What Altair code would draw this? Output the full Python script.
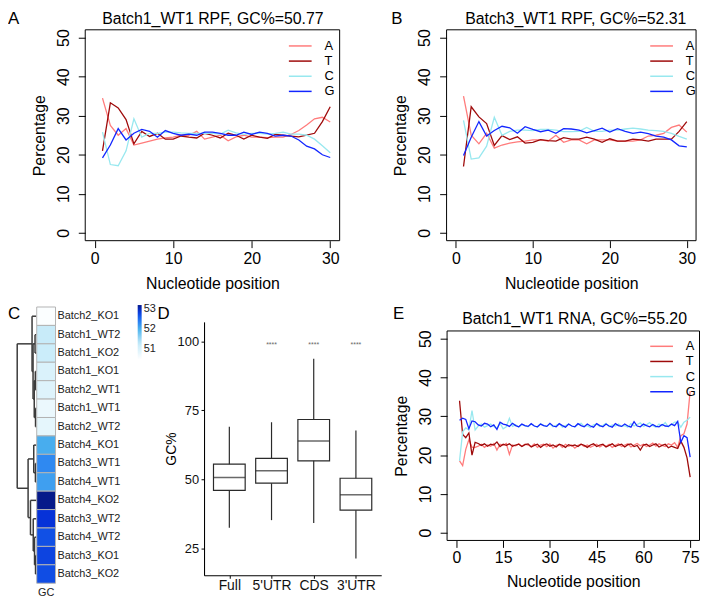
import altair as alt
import pandas as pd

W, H = 700, 600      # single layered canvas
M = 8                # page margin; reference measured in page pixels
FONT = "Liberation Sans"


def px(v):
    return v - M


# ---------------- data ----------------
bases = ["A", "T", "C", "G"]
base_colors = ["#ff7b7b", "#9e0a0a", "#98e8ef", "#1226ff"]

pos30 = list(range(1, 31))
rpf1_A = [34.5, 27.5, 25.0, 26.7, 22.5, 23.0, 23.5, 24.0, 24.3, 24.5, 25.0, 25.0, 26.0, 24.0, 24.5,
          25.0, 23.6, 24.6, 25.0, 24.5, 24.5, 24.4, 24.5, 24.5, 25.2, 26.2, 27.6, 29.2, 29.6, 28.4]
rpf1_T = [21.0, 33.3, 32.0, 29.0, 22.8, 26.0, 24.7, 25.5, 24.0, 24.0, 24.8, 24.5, 24.3, 25.5, 25.0,
          24.3, 25.5, 25.0, 24.0, 25.0, 24.5, 24.2, 25.2, 25.0, 24.8, 24.6, 25.0, 25.5, 28.5, 32.3]
rpf1_C = [25.8, 17.5, 17.2, 21.0, 29.2, 24.5, 25.5, 25.5, 25.8, 25.8, 25.6, 25.5, 25.5, 25.5, 25.5,
          25.3, 26.3, 25.6, 25.2, 25.5, 25.5, 25.3, 25.5, 25.8, 25.3, 25.3, 25.0, 24.0, 22.3, 20.5]
rpf1_G = [19.2, 22.5, 26.7, 23.8, 25.5, 26.5, 26.0, 24.5, 26.2, 25.5, 25.0, 25.3, 25.0, 25.8, 25.8,
          25.5, 25.0, 25.0, 25.8, 25.2, 25.8, 25.5, 24.8, 25.0, 24.8, 23.8, 22.2, 21.5, 20.0, 19.3]

rpf3_A = [35.0, 25.0, 22.8, 25.5, 21.7, 22.5, 23.0, 23.3, 23.5, 23.8, 23.8, 23.5, 25.0, 23.2, 23.8,
          23.8, 22.8, 23.8, 23.8, 23.8, 23.5, 23.5, 23.5, 23.8, 24.8, 25.0, 25.5, 27.0, 27.6, 25.8]
rpf3_T = [17.0, 32.3, 29.7, 28.0, 22.4, 24.9, 23.9, 24.6, 23.0, 23.2, 23.9, 23.6, 23.5, 24.4, 24.0,
          24.0, 24.5, 24.0, 23.2, 24.1, 23.5, 23.5, 24.0, 23.8, 23.5, 24.0, 24.0, 24.0, 26.0, 28.5]
rpf3_C = [28.8, 18.9, 19.2, 22.2, 29.6, 25.0, 26.0, 26.3, 26.3, 26.2, 26.5, 26.5, 26.3, 25.9, 25.9,
          26.0, 27.0, 26.0, 26.0, 26.3, 26.3, 26.6, 26.8, 26.6, 26.3, 26.2, 26.0, 25.5, 24.7, 24.0]
rpf3_G = [19.8, 24.5, 28.5, 24.8, 26.2, 27.3, 26.9, 25.5, 27.2, 26.5, 25.9, 26.3, 25.5, 26.7, 26.6,
          26.3, 25.6, 26.2, 26.8, 25.8, 26.7, 26.0, 25.5, 25.8, 25.4, 24.8, 24.5, 23.8, 22.3, 22.0]

pos75 = list(range(1, 76))
rna_A = [18.5, 17.3, 21.5, 24.0, 22.0, 22.0, 22.3, 22.8, 22.0, 22.6, 22.3, 23.0, 21.3, 22.8, 22.5,
         23.0, 20.2, 22.6, 22.4, 22.9, 22.3, 22.8, 22.6, 22.2, 22.9, 22.0, 22.6, 22.8, 22.2, 22.9,
         21.8, 22.5, 22.7, 22.0, 22.8, 22.3, 22.6, 21.8, 22.5, 22.8, 22.2, 22.6, 22.0, 22.4, 22.8,
         22.1, 22.6, 22.3, 22.8, 22.0, 22.5, 22.9, 22.2, 22.6, 22.9, 22.1, 22.6, 23.0, 22.4, 22.8,
         22.2, 22.6, 23.1, 22.3, 22.9, 22.5, 22.2, 22.9, 22.6, 23.2, 22.0, 25.0, 25.5, 28.0, 36.5]
rna_T = [34.0, 25.3, 24.5, 25.7, 20.0, 23.3, 23.0, 22.5, 22.9, 22.3, 22.8, 22.6, 23.4, 22.2, 22.8,
         22.5, 22.9, 22.3, 22.6, 22.8, 22.2, 22.7, 22.9, 22.1, 22.5, 22.8, 22.0, 22.6, 22.9, 22.3,
         22.6, 22.1, 22.8, 22.5, 22.0, 22.7, 22.4, 22.6, 22.2, 22.8, 22.5, 22.0, 22.6, 22.9, 22.2,
         22.6, 22.8, 22.1, 22.5, 22.9, 22.2, 22.6, 22.8, 22.1, 22.7, 22.9, 22.2, 22.5, 21.3, 22.6,
         22.8, 22.2, 22.6, 22.9, 22.1, 22.5, 22.8, 21.9, 22.3, 22.0, 21.7, 23.6, 22.0, 19.3, 14.3]
rna_C = [18.5, 26.0, 27.0, 26.5, 31.5, 26.5, 27.5, 28.0, 27.2, 27.6, 28.0, 27.3, 27.0, 28.2, 26.8,
         27.3, 29.5, 27.4, 27.8, 27.2, 27.9, 27.5, 27.3, 28.0, 27.5, 27.2, 28.1, 27.6, 27.4, 28.0,
         27.3, 27.7, 28.1, 27.2, 27.6, 28.0, 27.5, 27.3, 27.9, 28.2, 27.4, 27.6, 27.1, 27.8, 28.0,
         27.4, 27.7, 28.2, 27.3, 27.8, 27.5, 28.0, 27.4, 27.6, 27.2, 28.1, 27.5, 27.9, 28.3, 27.4,
         27.8, 28.4, 27.6, 27.2, 28.0, 27.5, 28.4, 27.3, 27.8, 28.5, 28.5, 27.2, 28.5, 29.0, 29.8]
rna_G = [29.0, 29.5, 29.2, 26.8, 28.8, 28.6, 27.8, 27.5, 28.2, 28.0, 27.3, 27.8, 26.6, 28.5, 28.0,
         27.8, 27.4, 28.2, 27.6, 27.3, 28.0, 27.6, 27.4, 28.1, 27.5, 27.3, 28.0, 27.6, 27.4, 28.2,
         27.5, 27.3, 28.1, 27.6, 27.2, 28.0, 27.5, 27.3, 28.1, 27.6, 27.3, 28.0, 27.5, 27.2, 28.1,
         27.6, 27.3, 28.0, 27.5, 27.2, 28.1, 27.6, 27.4, 28.0, 27.5, 27.2, 28.6, 27.5, 27.3, 28.0,
         27.6, 27.3, 27.9, 27.4, 27.3, 27.9, 27.5, 27.4, 28.0, 27.6, 28.7, 23.3, 25.0, 24.5, 19.5]

samples = ["Batch2_KO1", "Batch1_WT2", "Batch1_KO2", "Batch1_KO1", "Batch2_WT1", "Batch1_WT1",
           "Batch2_WT2", "Batch4_KO1", "Batch3_WT1", "Batch4_WT1", "Batch4_KO2", "Batch3_WT2",
           "Batch4_WT2", "Batch3_KO1", "Batch3_KO2"]
gc_values = [50.55, 51.25, 51.2, 51.0, 50.95, 50.77, 50.85, 52.05, 52.31, 52.15, 53.2, 52.9,
             52.7, 52.78, 52.72]
gc_stops = [50.5, 51.3, 52.0, 52.5, 52.9, 53.2]
gc_colors = ["#ffffff", "#c4eaf9", "#4db4ee", "#1d6ff3", "#0632d8", "#061a8a"]

# dendrogram: (left, right, merge height); integers are row indices above
dendro_tree = ((0, ((1, 2, 0.72), ((3, 4, 0.57), (5, 6, 0.46), 1.13), 1.75), 2.27),
               ((7, (8, 9, 0.52), 1.39),
                (10, (11, (12, (13, 14, 0.46), 0.98), 1.65), 3.09), 4.33),
               10.0)

regions = ["Full", "5'UTR", "CDS", "3'UTR"]
box_lower = [32.4, 35.2, 34.2, 21.3]
box_q1 = [46.0, 48.6, 56.7, 38.8]
box_median = [50.7, 53.1, 63.9, 44.4]
box_q3 = [55.5, 57.6, 71.7, 50.4]
box_upper = [69.1, 70.7, 93.7, 67.7]
sig_regions = ["5'UTR", "CDS", "3'UTR"]
sig_labels = ["****", "****", "****"]
sig_level = [98.8, 98.8, 98.8]


# ---------------- helpers ----------------
def long_df(pos, series):
    rows = []
    for b, vals in zip(bases, series):
        for p, v in zip(pos, vals):
            rows.append({"pos": p, "pct": v, "base": b})
    return pd.DataFrame(rows)


def line_panel(df, xdom, xr, yr, xvals, leg_xy, xlab_pad, xtitle_y):
    xs = alt.Scale(domain=xdom, range=xr, nice=False, zero=False)
    ys = alt.Scale(domain=[-2, 52], range=yr, nice=False, zero=False)
    xax = alt.Axis(
        orient="bottom", offset=yr[0] - H, values=xvals, tickSize=7, domain=False,
        labelFontSize=16, labelBaseline="alphabetic", labelPadding=xlab_pad,
        labelFlush=False, labelOverlap=False,
        title="Nucleotide position", titleFontSize=16, titleBaseline="alphabetic",
        titleY=xtitle_y)
    yax = alt.Axis(
        orient="left", offset=-xr[0], values=[0, 10, 20, 30, 40, 50], tickSize=7,
        domain=False, labelFontSize=16, labelAngle=-90, labelAlign="center",
        labelBaseline="alphabetic", labelPadding=10, labelFlush=False,
        title="Percentage", titleFontSize=16, titleBaseline="alphabetic", titleX=-41)
    frame = alt.Chart(pd.DataFrame({"k": [0]})).mark_rect(
        fillOpacity=0, stroke="black", strokeWidth=1
    ).encode(
        x=alt.XDatum(xdom[0], scale=xs, axis=xax), x2=alt.X2Datum(xdom[1]),
        y=alt.YDatum(-2, scale=ys, axis=yax), y2=alt.Y2Datum(52),
    )
    lines = alt.Chart(df).mark_line(strokeWidth=1.3).encode(
        x=alt.X("pos:Q", scale=xs, axis=xax),
        y=alt.Y("pct:Q", scale=ys, axis=yax),
        color=alt.Color("base:N", scale=alt.Scale(domain=bases, range=base_colors),
                        legend=alt.Legend(orient="none", legendX=leg_xy[0], legendY=leg_xy[1],
                                          title=None, direction="vertical", labelFontSize=13,
                                          symbolType="M-2,0H2", symbolSize=132,
                                          symbolStrokeWidth=1.5, labelOffset=18, rowPadding=1.3,
                                          padding=0)),
        order=alt.Order("pos:Q"),
    )
    return alt.layer(frame, lines)


def annot(text, x, y, size, align="left"):
    return alt.Chart(pd.DataFrame({"t": [text]})).mark_text(
        align=align, baseline="alphabetic", fontSize=size, font=FONT, color="black"
    ).encode(x=alt.value(x), y=alt.value(y), text="t:N")


# ---------------- panels A, B, E ----------------
panelA = line_panel(long_df(pos30, [rpf1_A, rpf1_T, rpf1_C, rpf1_G]), [-1.2, 31.2],
                    [px(86), px(343)], [px(240), px(27)], [0, 10, 20, 30],
                    (px(296.7), px(36.8)), 16, 48.5)
panelB = line_panel(long_df(pos30, [rpf3_A, rpf3_T, rpf3_C, rpf3_G]), [-1.2, 31.2],
                    [px(451), px(703)], [px(240), px(27)], [0, 10, 20, 30],
                    (px(661.7), px(36.8)), 16, 48.5)
panelE = line_panel(long_df(pos75, [rna_A, rna_T, rna_C, rna_G]), [-3, 78],
                    [px(451.5), px(706.5)], [px(542.8), px(331.2)], [0, 15, 30, 45, 60, 75],
                    (px(661.7), px(340.2)), 15, 47)

# ---------------- panel C: dendrogram + heatmap ----------------
segs = []


def walk(node):
    if isinstance(node, int):
        return node + 0.5, 0.0
    left, right, h = node
    yl, hl = walk(left)
    yr, hr = walk(right)
    segs.append({"x": h, "x2": h, "y": yl, "y2": yr})
    segs.append({"x": h, "x2": hl, "y": yl, "y2": yl})
    segs.append({"x": h, "x2": hr, "y": yr, "y2": yr})
    return (yl + yr) / 2, h


walk(dendro_tree)
dendro = alt.Chart(pd.DataFrame(segs)).mark_rule(color="#3a3a3a", strokeWidth=1.5).encode(
    x=alt.X("x:Q", scale=alt.Scale(domain=[0, 10], range=[px(36.7), px(17.3)], nice=False,
                                   zero=False), axis=None),
    x2="x2:Q",
    y=alt.Y("y:Q", scale=alt.Scale(domain=[0, 15], range=[px(307), px(586)], nice=False,
                                   zero=False), axis=None),
    y2="y2:Q",
)

heat_df = pd.DataFrame({"sample": samples, "gc": gc_values, "col": ["GC"] * len(samples)})
heat = alt.Chart(heat_df).mark_rect(stroke="#b3b3b3", strokeWidth=1).encode(
    x=alt.X("col:N", scale=alt.Scale(range=[px(37), px(56)], paddingInner=0, paddingOuter=0),
            axis=alt.Axis(orient="bottom", offset=px(586) - H, domain=False, ticks=False,
                          tickSize=0, labelPadding=12, labelBaseline="alphabetic",
                          labelFontSize=11, labelAngle=0, title=None, labelColor="#222")),
    y=alt.Y("sample:N", sort=samples,
            scale=alt.Scale(range=[px(307), px(586)], paddingInner=0, paddingOuter=0),
            axis=alt.Axis(orient="right", offset=px(56) - W, domain=False, ticks=False,
                          tickSize=0, labelPadding=1.5, labelFontSize=11, title=None,
                          labelColor="#222")),
    color=alt.Color("gc:Q", scale=alt.Scale(domain=gc_stops, range=gc_colors,
                                            interpolate="rgb"),
                    legend=alt.Legend(orient="none", legendX=px(139), legendY=px(305),
                                      title=None, direction="vertical", gradientLength=55,
                                      gradientThickness=4, values=[51, 52, 53],
                                      labelFontSize=11, labelOffset=2, gradientStrokeWidth=0,
                                      padding=0, labelColor="#222")),
)

# ---------------- panel D: box plots ----------------
box_df = pd.DataFrame({"region": regions, "lower": box_lower, "q1": box_q1,
                       "median": box_median, "q3": box_q3, "upper": box_upper})
sig_df = pd.DataFrame({"region": sig_regions, "sig": sig_labels, "level": sig_level})

xs_d = alt.Scale(type="point", domain=regions, range=[px(206), px(385)], padding=0.6)
ys_d = alt.Scale(domain=[15.2, 107.1], range=[px(578), px(322)], nice=False, zero=False)
xax_d = alt.Axis(orient="bottom", offset=px(578) - H, tickSize=3, labelPadding=11.7,
                 labelBaseline="alphabetic", labelFontSize=14, labelAngle=0, title=None,
                 domainWidth=1.1, labelColor="#111")
yax_d = alt.Axis(orient="left", offset=-px(206), values=[25, 50, 75, 100], tickSize=3,
                 labelPadding=2.5, labelFontSize=13, labelAlign="right", labelBaseline="middle",
                 title="GC%", titleFontSize=14, titleBaseline="alphabetic", titleX=-29.3,
                 domainWidth=1.1, labelColor="#111")
xd = alt.X("region:N", scale=xs_d, axis=xax_d, sort=regions)

whisk = alt.Chart(box_df).mark_rule(color="#2a2a2a", strokeWidth=1.2).encode(
    x=xd, y=alt.Y("lower:Q", scale=ys_d, axis=yax_d), y2="upper:Q")
boxes = alt.Chart(box_df).mark_bar(fill="white", stroke="#2a2a2a", strokeWidth=1.2,
                                   size=32).encode(
    x=xd, y=alt.Y("q1:Q", scale=ys_d, axis=yax_d), y2="q3:Q")
meds = alt.Chart(box_df).mark_tick(color="#2a2a2a", thickness=1.5, size=32).encode(
    x=xd, y=alt.Y("median:Q", scale=ys_d, axis=yax_d))
stars = alt.Chart(sig_df).mark_text(fontSize=7, color="#666", font=FONT,
                                    baseline="middle").encode(
    x=xd, y=alt.Y("level:Q", scale=ys_d, axis=yax_d), text="sig:N")
panelD = alt.layer(whisk, boxes, meds, stars)

# ---------------- annotations ----------------
annots = [
    annot("A", 0, 13, 17), annot("B", px(395), 13, 17),
    annot("C", 0, px(319), 17), annot("D", px(159), px(319), 17), annot("E", px(397), px(319), 17),
    annot("Batch1_WT1 RPF, GC%=50.77", px(215), 13, 16, "center"),
    annot("Batch3_WT1 RPF, GC%=52.31", px(581.5), 13, 16, "center"),
    annot("Batch1_WT1 RNA, GC%=55.20", px(580.3), px(324), 16, "center"),
]

chart = alt.layer(panelA, panelB, panelE, dendro, heat, panelD, *annots).resolve_scale(
    x="independent", y="independent", color="independent"
).properties(
    width=W, height=H, padding=0, autosize=alt.AutoSizeParams(type="none")
).configure(font=FONT).configure_view(stroke=None).configure_axis(
    grid=False, labelFont=FONT, titleFont=FONT, labelColor="black", titleColor="black",
    tickColor="black", domainColor="black", titleFontWeight="normal"
).configure_legend(labelFont=FONT, labelColor="black")

chart.save("out.html", embed_options={"renderer": "svg", "actions": False})
